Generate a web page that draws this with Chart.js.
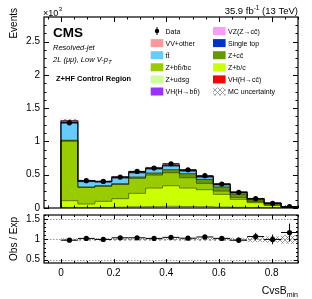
<!DOCTYPE html>
<html>
<head>
<meta charset="utf-8">
<script src="https://cdn.jsdelivr.net/npm/chart.js@4.4.0/dist/chart.umd.min.js"></script>
<style>
  html, body { margin: 0; padding: 0; background: #fff; }
  #wrap { position: relative; width: 312px; height: 299px; }
  #wrap canvas { position: absolute; left: 0; top: 0; }
</style>
</head>
<body>
<div id="wrap">
  <canvas id="ratioChart" width="312" height="299"></canvas>
  <canvas id="mainChart" width="312" height="299"></canvas>
</div>
<script>
// CvsB_min binning: 14 bins between 0 and 0.9
const binEdges = [0, 0.0643, 0.1286, 0.1929, 0.2571, 0.3214, 0.3857, 0.45, 0.5143, 0.5786, 0.6429, 0.7071, 0.7714, 0.8357, 0.9];

// MC per bin, in units of 10^3 events (bottom of the stack first)
const zUdsg     = [0.008, 0.006, 0.008, 0.012, 0.018, 0.020, 0.025, 0.022, 0.020, 0.015, 0.010, 0.006, 0.004, 0.001];
const zBc       = [0.102, 0.054, 0.092, 0.128, 0.202, 0.280, 0.310, 0.278, 0.255, 0.190, 0.120, 0.074, 0.034, 0.007];
const zBb       = [0.893, 0.249, 0.226, 0.213, 0.225, 0.195, 0.195, 0.155, 0.095, 0.050, 0.029, 0.016, 0.011, 0.002];
const zCc       = [0.015, 0.006, 0.008, 0.012, 0.020, 0.030, 0.045, 0.060, 0.060, 0.060, 0.050, 0.025, 0.015, 0.006];
const ttbar     = [0.260, 0.080, 0.055, 0.085, 0.063, 0.062, 0.057, 0.040, 0.035, 0.033, 0.020, 0.012, 0.006, 0.001];
const singleTop = [0.010, 0.004, 0.003, 0.004, 0.003, 0.003, 0.003, 0.002, 0.002, 0.002, 0.002, 0.001, 0.001, 0.000];
const vvOther   = [0.020, 0.010, 0.007, 0.010, 0.008, 0.009, 0.009, 0.007, 0.007, 0.009, 0.008, 0.005, 0.003, 0.001];
const vzCc      = [0.002, 0.001, 0.001, 0.001, 0.001, 0.001, 0.001, 0.001, 0.001, 0.001, 0.001, 0.001, 0.001, 0.000];
const vhBb      = [0.0005, 0.0002, 0.0002, 0.0002, 0.0002, 0.0002, 0.0002, 0.0002, 0.0002, 0.0002, 0.0001, 0.0001, 0.0001, 0.0];
const vhCc      = [0.0003, 0.0001, 0.0001, 0.0001, 0.0001, 0.0001, 0.0002, 0.0002, 0.0002, 0.0002, 0.0002, 0.0001, 0.0001, 0.0];
const mcUnc     = [0.02, 0.025, 0.025, 0.025, 0.025, 0.025, 0.025, 0.025, 0.03, 0.03, 0.035, 0.06, 0.07, 0.10];

// observed data (10^3 events) and its error
const dataVals  = [1.28, 0.41, 0.40, 0.465, 0.55, 0.60, 0.665, 0.575, 0.485, 0.36, 0.235, 0.14, 0.07, 0.02];
const dataErr   = [0.036, 0.020, 0.020, 0.022, 0.023, 0.025, 0.026, 0.024, 0.022, 0.019, 0.015, 0.012, 0.008, 0.005];

// ratio panel
const ratioVals = [0.98, 1.025, 1.0, 1.04, 1.04, 1.025, 1.05, 1.03, 1.06, 1.025, 0.98, 1.07, 1.0, 1.17];
const ratioErr  = [0.03, 0.05, 0.05, 0.046, 0.043, 0.041, 0.039, 0.042, 0.045, 0.053, 0.065, 0.09, 0.12, 0.22];

// ticks
const xMajorTicks = [0, 0.2, 0.4, 0.6, 0.8];
const yMainTicks  = [0, 0.5, 1, 1.5, 2, 2.5];
const yRatioTicks = [0.5, 1, 1.5];

const stackNames  = ['Z+udsg', 'Z+b/c', 'Z+bb\u0304/bc', 'Z+cc\u0304', 'tt\u0304', 'Single top', 'VV+other', 'VZ(Z\u2192cc\u0304)', 'VH(H\u2192bb\u0304)', 'VH(H\u2192cc\u0304)'];
const stackValues = [zUdsg, zBc, zBb, zCc, ttbar, singleTop, vvOther, vzCc, vhBb, vhCc];
const stackColors = ['#ccff99', '#ccff00', '#99cc00', '#669900', '#66ccff', '#0033cc', '#ff9999', '#ff99ff', '#9933ff', '#ff0000'];

const legendCol1 = ['Data', 'VV+other', 'tt\u0304', 'Z+bb\u0304/bc', 'Z+udsg', 'VH(H\u2192bb\u0304)'];
const legendCol2 = ['VZ(Z\u2192cc\u0304)', 'Single top', 'Z+cc\u0304', 'Z+b/c', 'VH(H\u2192cc\u0304)', 'MC uncertainty'];

const FONT = "'Liberation Sans', Arial, Helvetica, sans-serif";
Chart.defaults.font.family = FONT;
Chart.defaults.color = '#000';

const xMin = -0.0643, xMax = 0.9;
const binCenters = binEdges.slice(0, -1).map((e, i) => (e + binEdges[i + 1]) / 2);

// cumulative stack bounds
const stackLow = [], stackHigh = [];
let running = binCenters.map(() => 0);
stackValues.forEach((vals) => {
  stackLow.push(running.slice());
  running = running.map((r, i) => r + vals[i]);
  stackHigh.push(running.slice());
});
const mcTotal = running;

function makeHatch(ctx) {
  const c = document.createElement('canvas');
  c.width = 5; c.height = 5;
  const g = c.getContext('2d');
  g.strokeStyle = '#777';
  g.lineWidth = 0.7;
  g.beginPath();
  g.moveTo(0, 0); g.lineTo(5, 5);
  g.moveTo(5, 0); g.lineTo(0, 5);
  g.stroke();
  return ctx.createPattern(c, 'repeat');
}

function drawTicks(ctx, a, xs, ys, yStep, yPerMajor, majLen, minLen) {
  ctx.strokeStyle = '#000';
  ctx.lineWidth = 1;
  ctx.beginPath();
  for (let k = -2; k <= 18; k++) {
    const v = k * 0.05;
    if (v < xs.min || v > xs.max) continue;
    const px = Math.round(xs.getPixelForValue(v)) + 0.5;
    const len = (k % 4 === 0) ? majLen : minLen;
    ctx.moveTo(px, a.bottom); ctx.lineTo(px, a.bottom - len);
    ctx.moveTo(px, a.top); ctx.lineTo(px, a.top + len);
  }
  for (let k = 0; k < 60; k++) {
    const v = k * yStep;
    if (v < ys.min || v > ys.max) continue;
    const py = Math.round(ys.getPixelForValue(v)) + 0.5;
    const len = (k % yPerMajor === 0) ? majLen : minLen;
    ctx.moveTo(a.left, py); ctx.lineTo(a.left + len, py);
    ctx.moveTo(a.right, py); ctx.lineTo(a.right - len, py);
  }
  ctx.stroke();
  ctx.lineWidth = 1.2;
  ctx.strokeRect(a.left, a.top, a.right - a.left, a.bottom - a.top);
}

function drawErrors(ctx, xs, ys, vals, errs) {
  ctx.strokeStyle = '#000';
  ctx.lineWidth = 1;
  ctx.beginPath();
  vals.forEach((v, i) => {
    const px = xs.getPixelForValue(binCenters[i]);
    const py = ys.getPixelForValue(v);
    ctx.moveTo(xs.getPixelForValue(binEdges[i]), py);
    ctx.lineTo(xs.getPixelForValue(binEdges[i + 1]), py);
    ctx.moveTo(px, ys.getPixelForValue(v - errs[i]));
    ctx.lineTo(px, ys.getPixelForValue(v + errs[i]));
  });
  ctx.stroke();
}

const mainCanvas = document.getElementById('mainChart');
const mainCtx = mainCanvas.getContext('2d');
const hatchMain = makeHatch(mainCtx);

const mainDecor = {
  id: 'mainDecor',
  afterDatasetsDraw(chart) {
    const {ctx, chartArea: a, scales: {x, y}} = chart;
    ctx.save();
    drawErrors(ctx, x, y, dataVals, dataErr);
    drawTicks(ctx, a, x, y, 0.125, 4, 5, 2.5);

    ctx.fillStyle = '#000';
    ctx.textBaseline = 'alphabetic';
    // axis title
    ctx.save();
    ctx.translate(14, 8);
    ctx.rotate(-Math.PI / 2);
    ctx.textAlign = 'right';
    ctx.textBaseline = 'middle';
    ctx.font = '10px ' + FONT;
    ctx.fillText('Events', 0, 0);
    ctx.restore();

    // x10^3
    ctx.textAlign = 'left';
    ctx.font = '9px ' + FONT;
    ctx.fillText('\u00d710', 43, 15.5);
    const w10 = ctx.measureText('\u00d710').width;
    ctx.font = '6px ' + FONT;
    ctx.fillText('3', 43 + w10 + 0.5, 11);

    // luminosity label
    ctx.font = '9.5px ' + FONT;
    const p1 = '35.9 fb', p3 = ' (13 TeV)';
    const w1 = ctx.measureText(p1).width, w3 = ctx.measureText(p3).width;
    ctx.font = '6.5px ' + FONT;
    const w2 = ctx.measureText('-1').width;
    let lx = a.right - (w1 + w2 + w3);
    ctx.font = '9.5px ' + FONT;
    ctx.fillText(p1, lx, 13.5);
    ctx.font = '6.5px ' + FONT;
    ctx.fillText('-1', lx + w1, 9.5);
    ctx.font = '9.5px ' + FONT;
    ctx.fillText(p3, lx + w1 + w2, 13.5);

    // CMS label block
    ctx.font = 'bold 13.5px ' + FONT;
    ctx.fillText('CMS', 53, 37);
    ctx.font = 'italic 7.5px ' + FONT;
    ctx.fillText('Resolved-jet', 53, 49.5);
    const s = '2L (\u03bc\u03bc), Low V-p';
    ctx.fillText(s, 53, 61.5);
    const ws = ctx.measureText(s).width;
    ctx.font = 'italic 5.5px ' + FONT;
    ctx.fillText('T', 53 + ws + 0.3, 63.5);
    ctx.font = 'bold 7.5px ' + FONT;
    ctx.fillText('Z+HF Control Region', 56, 80.5);

    // legend
    const rowY = (i) => 31 + 12.1 * i;
    const drawEntry = (name, bx, tx, cy) => {
      if (name === 'Data') {
        ctx.fillStyle = '#000';
        ctx.beginPath();
        ctx.arc(bx + 6.3, cy, 2.2, 0, Math.PI * 2);
        ctx.fill();
        ctx.beginPath();
        ctx.lineWidth = 1;
        ctx.moveTo(bx + 6.3, cy - 4); ctx.lineTo(bx + 6.3, cy + 4);
        ctx.stroke();
      } else if (name === 'MC uncertainty') {
        ctx.fillStyle = hatchMain;
        ctx.fillRect(bx, cy - 4, 12.6, 8);
      } else {
        ctx.fillStyle = stackColors[stackNames.indexOf(name)];
        ctx.fillRect(bx, cy - 4, 12.6, 8);
      }
      ctx.fillStyle = '#000';
      ctx.font = '7px ' + FONT;
      ctx.textAlign = 'left';
      ctx.fillText(name, tx, cy + 2.5);
    };
    legendCol1.forEach((n, i) => drawEntry(n, 150.7, 165.5, rowY(i)));
    legendCol2.forEach((n, i) => drawEntry(n, 213, 228, rowY(i)));
    ctx.restore();
  }
};

const mainDatasets = [];
stackNames.forEach((name, k) => {
  mainDatasets.push({
    type: 'bar', label: name, order: 10,
    data: binCenters.map((xv, i) => ({x: xv, y: [stackLow[k][i], stackHigh[k][i]]})),
    backgroundColor: stackColors[k], borderWidth: 0, grouped: false,
    barPercentage: 1, categoryPercentage: 1
  });
});
mainDatasets.push({
  type: 'bar', label: 'MC uncertainty', order: 8,
  data: binCenters.map((xv, i) => ({x: xv, y: [mcTotal[i] * (1 - mcUnc[i]), mcTotal[i] * (1 + mcUnc[i])]})),
  backgroundColor: hatchMain, borderWidth: 0, grouped: false,
  barPercentage: 1, categoryPercentage: 1
});
stackNames.slice(0, 8).forEach((name, k) => {
  const pts = [{x: binEdges[0], y: 0}];
  binCenters.forEach((c, i) => pts.push({x: binEdges[i], y: stackHigh[k][i]}));
  pts.push({x: binEdges[binEdges.length - 1], y: stackHigh[k][binCenters.length - 1]});
  pts.push({x: binEdges[binEdges.length - 1], y: 0});
  mainDatasets.push({
    type: 'line', label: name + ' line', order: 6, data: pts,
    stepped: true, borderColor: 'rgba(0,0,0,0.5)', borderWidth: 1,
    pointRadius: 0, fill: false
  });
});
mainDatasets.push({
  type: 'line', label: 'Data', order: 0,
  data: binCenters.map((xv, i) => ({x: xv, y: dataVals[i]})),
  showLine: false, pointRadius: 2.6, pointBackgroundColor: '#000',
  pointBorderWidth: 0, borderColor: '#000'
});

new Chart(mainCtx, {
  type: 'bar',
  data: {datasets: mainDatasets},
  options: {
    responsive: false, animation: false, events: [],
    layout: {padding: {left: 0, right: 14, top: 17, bottom: 91}},
    plugins: {legend: {display: false}, tooltip: {enabled: false}},
    scales: {
      x: {
        type: 'linear', min: xMin, max: xMax, display: false, offset: false,
        afterBuildTicks: (s) => { s.ticks = xMajorTicks.map(v => ({value: v})); }
      },
      y: {
        min: 0, max: 2.87,
        grid: {display: false, drawTicks: false}, border: {display: false},
        ticks: {padding: 4, font: {size: 10}, color: '#000', callback: (v) => String(v)},
        afterBuildTicks: (s) => { s.ticks = yMainTicks.map(v => ({value: v})); },
        afterFit: (s) => { s.width = 44; }
      }
    }
  },
  plugins: [mainDecor]
});

// ratio panel
const ratioCanvas = document.getElementById('ratioChart');
const ratioCtx = ratioCanvas.getContext('2d');
const hatchRatio = makeHatch(ratioCtx);

const ratioDecor = {
  id: 'ratioDecor',
  beforeDatasetsDraw(chart) {
    const {ctx, chartArea: a, scales: {y}} = chart;
    ctx.save();
    ctx.strokeStyle = '#999';
    ctx.lineWidth = 1;
    ctx.setLineDash([1.5, 1.5]);
    ctx.beginPath();
    yRatioTicks.forEach((v) => {
      const py = Math.round(y.getPixelForValue(v)) + 0.5;
      ctx.moveTo(a.left, py); ctx.lineTo(a.right, py);
    });
    ctx.stroke();
    ctx.restore();
  },
  afterDatasetsDraw(chart) {
    const {ctx, chartArea: a, scales: {x, y}} = chart;
    ctx.save();
    drawErrors(ctx, x, y, ratioVals, ratioErr);
    drawTicks(ctx, a, x, y, 0.1, 5, 4, 2);

    ctx.fillStyle = '#000';
    ctx.save();
    ctx.translate(14, 239);
    ctx.rotate(-Math.PI / 2);
    ctx.textAlign = 'center';
    ctx.textBaseline = 'middle';
    ctx.font = '10px ' + FONT;
    ctx.fillText('Obs / Exp', 0, 0);
    ctx.restore();

    ctx.textBaseline = 'alphabetic';
    ctx.font = '10.5px ' + FONT;
    const wA = ctx.measureText('CvsB').width;
    ctx.font = '7px ' + FONT;
    const wB = ctx.measureText('min').width;
    const sx = a.right - wA - wB;
    ctx.textAlign = 'left';
    ctx.font = '10.5px ' + FONT;
    ctx.fillText('CvsB', sx, 294);
    ctx.font = '7px ' + FONT;
    ctx.fillText('min', sx + wA, 297);
    ctx.restore();
  }
};

new Chart(ratioCtx, {
  type: 'bar',
  data: {
    datasets: [
      {
        type: 'bar', label: 'MC uncertainty', order: 5,
        data: binCenters.map((xv, i) => ({x: xv, y: [1 - mcUnc[i], 1 + mcUnc[i]]})),
        backgroundColor: hatchRatio, borderWidth: 0, grouped: false,
        barPercentage: 1, categoryPercentage: 1
      },
      {
        type: 'line', label: 'Data / MC', order: 0,
        data: binCenters.map((xv, i) => ({x: xv, y: ratioVals[i]})),
        showLine: false, pointRadius: 2.6, pointBackgroundColor: '#000',
        pointBorderWidth: 0, borderColor: '#000'
      }
    ]
  },
  options: {
    responsive: false, animation: false, events: [],
    layout: {padding: {left: 0, right: 14, top: 215, bottom: 0}},
    plugins: {legend: {display: false}, tooltip: {enabled: false}},
    scales: {
      x: {
        type: 'linear', min: xMin, max: xMax, offset: false,
        grid: {display: false, drawTicks: false}, border: {display: false},
        ticks: {padding: 4, font: {size: 10}, color: '#000', maxRotation: 0, callback: (v) => String(v)},
        afterBuildTicks: (s) => { s.ticks = xMajorTicks.map(v => ({value: v})); },
        afterFit: (s) => { s.height = 36; }
      },
      y: {
        min: 0.42, max: 1.6,
        grid: {display: false, drawTicks: false}, border: {display: false},
        ticks: {padding: 4, font: {size: 10}, color: '#000', callback: (v) => String(v)},
        afterBuildTicks: (s) => { s.ticks = yRatioTicks.map(v => ({value: v})); },
        afterFit: (s) => { s.height = s.height; s.width = 44; }
      }
    }
  },
  plugins: [ratioDecor]
});
</script>
</body>
</html>
